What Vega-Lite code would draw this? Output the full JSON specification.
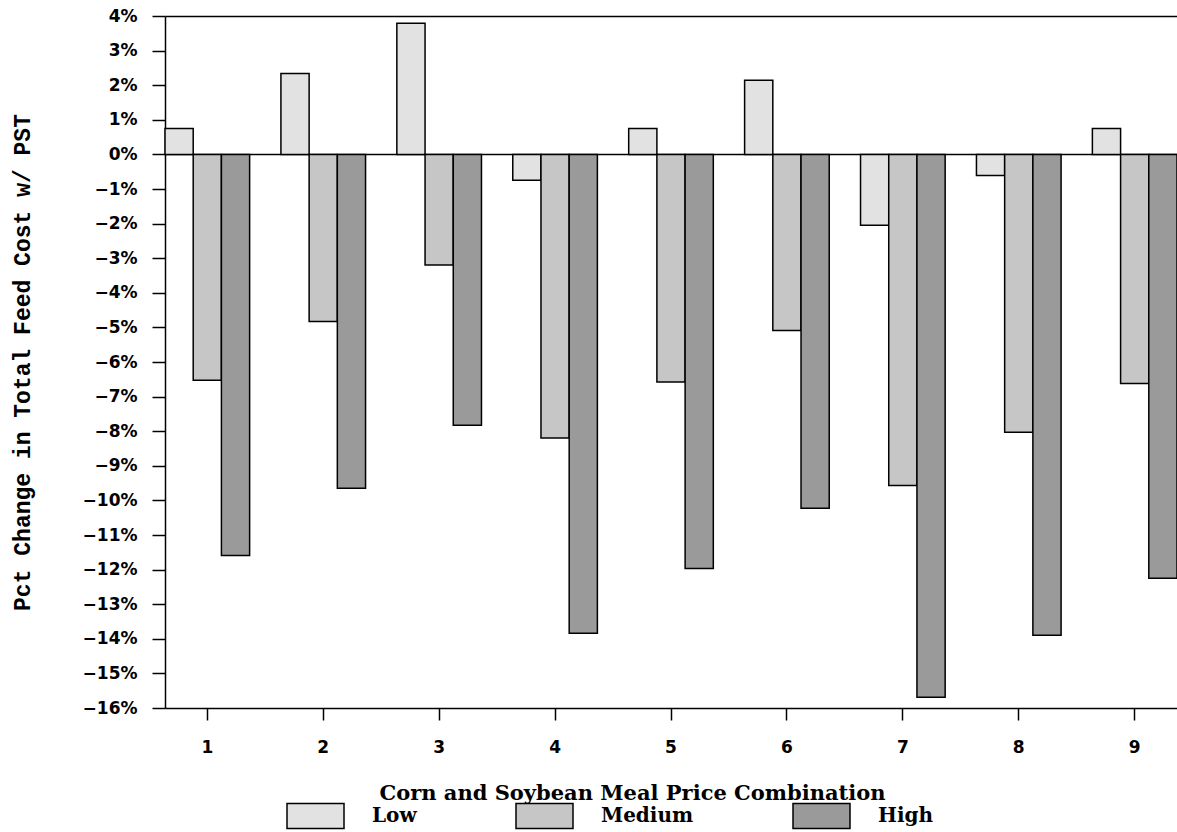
{
  "$schema": "https://vega.github.io/schema/vega-lite/v6.json",
  "width": 1012,
  "height": 692,
  "autosize": "none",
  "padding": {"left": 165, "top": 16, "right": 0, "bottom": 124},
  "background": "white",
  "config": {"view": {"stroke": null}, "font": "DejaVu Sans"},
  "data": {
    "values": [
      {"combo": "1", "level": "Low", "pct": 0.75},
      {"combo": "1", "level": "Medium", "pct": -6.53},
      {"combo": "1", "level": "High", "pct": -11.59},
      {"combo": "2", "level": "Low", "pct": 2.34},
      {"combo": "2", "level": "Medium", "pct": -4.83},
      {"combo": "2", "level": "High", "pct": -9.65},
      {"combo": "3", "level": "Low", "pct": 3.79},
      {"combo": "3", "level": "Medium", "pct": -3.2},
      {"combo": "3", "level": "High", "pct": -7.83},
      {"combo": "4", "level": "Low", "pct": -0.75},
      {"combo": "4", "level": "Medium", "pct": -8.2},
      {"combo": "4", "level": "High", "pct": -13.84},
      {"combo": "5", "level": "Low", "pct": 0.75},
      {"combo": "5", "level": "Medium", "pct": -6.58},
      {"combo": "5", "level": "High", "pct": -11.97},
      {"combo": "6", "level": "Low", "pct": 2.14},
      {"combo": "6", "level": "Medium", "pct": -5.09},
      {"combo": "6", "level": "High", "pct": -10.23},
      {"combo": "7", "level": "Low", "pct": -2.05},
      {"combo": "7", "level": "Medium", "pct": -9.57},
      {"combo": "7", "level": "High", "pct": -15.69},
      {"combo": "8", "level": "Low", "pct": -0.61},
      {"combo": "8", "level": "Medium", "pct": -8.03},
      {"combo": "8", "level": "High", "pct": -13.9},
      {"combo": "9", "level": "Low", "pct": 0.75},
      {"combo": "9", "level": "Medium", "pct": -6.62},
      {"combo": "9", "level": "High", "pct": -12.25}
    ]
  },
  "mark": {"type": "bar", "stroke": "black", "strokeWidth": 1.5},
  "encoding": {
    "x": {
      "field": "combo",
      "type": "ordinal",
      "title": "Corn and Soybean Meal Price Combination",
      "scale": {"paddingInner": 0.27, "paddingOuter": 0},
      "axis": {
        "labelAngle": 0,
        "grid": false,
        "domainColor": "black",
        "domainWidth": 1.5,
        "tickColor": "black",
        "tickWidth": 1.5,
        "tickSize": 12,
        "labelPadding": 19,
        "labelFont": "DejaVu Sans",
        "labelFontWeight": "bold",
        "labelFontSize": 17,
        "labelColor": "black",
        "titleFont": "DejaVu Serif",
        "titleFontWeight": "bold",
        "titleFontSize": 21,
        "titleColor": "black",
        "titleX": 467,
        "titleY": 85,
        "titleAlign": "center",
        "titleBaseline": "middle"
      }
    },
    "xOffset": {
      "field": "level",
      "type": "nominal",
      "sort": ["Low", "Medium", "High"],
      "scale": {"paddingInner": 0, "paddingOuter": 0}
    },
    "y": {
      "field": "pct",
      "type": "quantitative",
      "title": "Pct Change in Total Feed Cost w/ PST",
      "scale": {"domain": [-16, 4], "nice": false},
      "axis": {
        "values": [-16, -15, -14, -13, -12, -11, -10, -9, -8, -7, -6, -5, -4, -3, -2, -1, 0, 1, 2, 3, 4],
        "labelOverlap": false,
        "labelExpr": "format(datum.value, 'd') + '%'",
        "grid": true,
        "gridColor": {"condition": {"test": "datum.value === 0 || datum.value === 4", "value": "black"}, "value": "transparent"},
        "gridWidth": 1.5,
        "domainColor": "black",
        "domainWidth": 1.5,
        "tickColor": "black",
        "tickWidth": 1.5,
        "tickSize": 13,
        "labelPadding": 15,
        "labelFont": "DejaVu Sans",
        "labelFontWeight": "bold",
        "labelFontSize": 17,
        "labelColor": "black",
        "titleFont": "Liberation Mono",
        "titleFontWeight": "bold",
        "titleFontSize": 23,
        "titleColor": "black",
        "titleX": -143,
        "titleY": 346,
        "titleAngle": 270,
        "titleAlign": "center",
        "titleBaseline": "middle"
      }
    },
    "fill": {
      "field": "level",
      "type": "nominal",
      "sort": ["Low", "Medium", "High"],
      "scale": {"domain": ["Low", "Medium", "High"], "range": ["#e2e2e2", "#c6c6c6", "#9a9a9a"]},
      "legend": {
        "orient": "none",
        "legendX": 121,
        "legendY": 770,
        "direction": "horizontal",
        "columns": 3,
        "columnPadding": 96,
        "title": null,
        "padding": 0,
        "symbolType": "M-1,-0.44L1,-0.44L1,0.44L-1,0.44Z",
        "symbolSize": 3249,
        "symbolStrokeColor": "black",
        "symbolStrokeWidth": 1.5,
        "symbolOpacity": 1,
        "labelFont": "DejaVu Serif",
        "labelFontWeight": "bold",
        "labelFontSize": 20,
        "labelColor": "black",
        "labelOffset": 27
      }
    }
  }
}
